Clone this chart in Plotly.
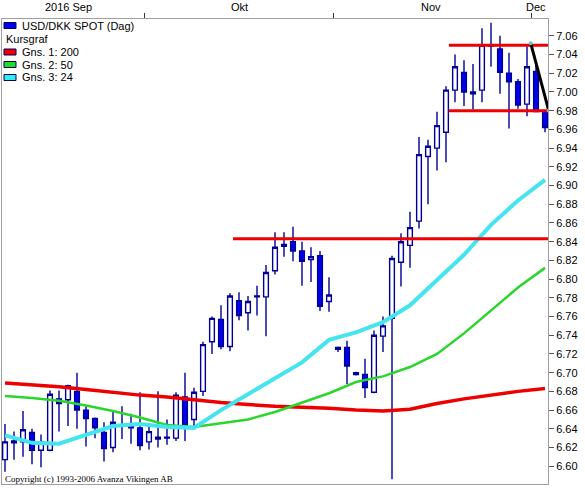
import pandas as pd
import plotly.graph_objects as go

# trading days shown (Sep 9 - Dec 2, 2016)
dates = pd.bdate_range("2016-09-09", "2016-12-02")

open_ = [6.607, 6.625, 6.626, 6.636, 6.617, 6.617, 6.672, 6.671, 6.680, 6.660,
         6.651, 6.636, 6.620, 6.643, 6.643, 6.641, 6.626, 6.629, 6.631, 6.630,
         6.674, 6.650, 6.680, 6.733, 6.757, 6.728, 6.777, 6.764, 6.781, 6.781,
         6.809, 6.837, 6.840, 6.830, 6.821, 6.825, 6.776, 6.727, 6.727, 6.700,
         6.698, 6.679, 6.739, 6.758, 6.818, 6.836, 6.862, 6.931, 6.940, 6.957,
         7.002, 7.021, 6.998, 7.002, 7.050, 7.046, 7.020, 7.011, 6.987, 7.022,
         6.979]
high = [6.645, 6.637, 6.659, 6.640, 6.634, 6.681, 6.681, 6.687, 6.700, 6.664,
        6.652, 6.647, 6.658, 6.664, 6.656, 6.679, 6.643, 6.680, 6.650, 6.679,
        6.700, 6.684, 6.733, 6.760, 6.772, 6.785, 6.786, 6.782, 6.793, 6.815,
        6.850, 6.850, 6.856, 6.840, 6.834, 6.830, 6.802, 6.728, 6.734, 6.701,
        6.715, 6.745, 6.760, 6.825, 6.849, 6.872, 6.952, 6.949, 6.979, 7.006,
        7.040, 7.034, 7.030, 7.068, 7.074, 7.060, 7.042, 7.014, 7.049, 7.030,
        6.980]
low = [6.594, 6.607, 6.610, 6.602, 6.599, 6.616, 6.637, 6.643, 6.640, 6.621,
       6.630, 6.605, 6.615, 6.629, 6.624, 6.617, 6.618, 6.620, 6.623, 6.627,
       6.627, 6.640, 6.675, 6.720, 6.725, 6.723, 6.756, 6.745, 6.761, 6.739,
       6.805, 6.824, 6.819, 6.793, 6.797, 6.766, 6.765, 6.722, 6.688, 6.697,
       6.673, 6.678, 6.722, 6.586, 6.792, 6.812, 6.854, 6.880, 6.916, 6.925,
       6.989, 6.985, 6.981, 6.989, 7.027, 6.998, 6.961, 6.982, 6.974, 6.979,
       6.957]
close = [6.626, 6.627, 6.639, 6.617, 6.626, 6.677, 6.667, 6.686, 6.660, 6.651,
         6.641, 6.619, 6.647, 6.644, 6.641, 6.622, 6.637, 6.631, 6.630, 6.676,
         6.643, 6.679, 6.730, 6.758, 6.728, 6.782, 6.761, 6.776, 6.782, 6.807,
         6.834, 6.835, 6.830, 6.819, 6.824, 6.771, 6.783, 6.725, 6.707, 6.698,
         6.684, 6.740, 6.750, 6.822, 6.840, 6.855, 6.933, 6.942, 6.964, 7.002,
         7.027, 7.000, 7.000, 7.050, 7.049, 7.021, 7.011, 6.986, 7.027, 6.979,
         6.962]

# moving averages read every third trading day
ma_dates = dates[::3]
ma200 = [6.689, 6.687, 6.685, 6.682, 6.679, 6.676, 6.674, 6.671, 6.668, 6.666,
         6.664, 6.663, 6.662, 6.660, 6.659, 6.661, 6.667, 6.672, 6.676, 6.680, 6.683]
ma50 = [6.675, 6.673, 6.670, 6.665, 6.659, 6.652, 6.644, 6.642, 6.646, 6.650,
        6.658, 6.668, 6.678, 6.690, 6.696, 6.706, 6.720, 6.742, 6.766, 6.791, 6.812]
ma24 = [6.633, 6.625, 6.624, 6.634, 6.643, 6.645, 6.642, 6.641, 6.660, 6.677,
        6.694, 6.711, 6.735, 6.743, 6.754, 6.772, 6.799, 6.826, 6.858, 6.884, 6.906]

# horizontal support / resistance lines
sr_levels = [6.843, 7.050, 6.980]
sr_start = ["2016-10-14 08:00", "2016-11-17 08:00", "2016-11-17 08:00"]
sr_end = "2016-12-02 08:00"

# trend line
trend_x = ["2016-11-30 10:00", "2016-12-02 10:00"]
trend_y = [7.052, 6.980]

y_ticks = [round(6.60 + 0.02 * k, 2) for k in range(24)]
month_labels = ["2016 Sep", "Okt", "Nov", "Dec"]
month_label_x = ["2016-09-20", "2016-10-17", "2016-11-15 08:00", "2016-12-01"]
month_bounds = ["2016-09-30 12:00", "2016-10-31 12:00", "2016-11-30 12:00"]

NAVY = "#000099"
BLUE = "#0000EE"
RED = "#EE0000"
GREEN = "#2BD62B"
CYAN = "#44E4F0"
FRAME = "#A0A0A0"
FONT = "Liberation Sans, Arial, sans-serif"

fig = go.Figure()

fig.add_trace(go.Candlestick(
    x=dates, open=open_, high=high, low=low, close=close,
    increasing=dict(line=dict(color=NAVY, width=1.4), fillcolor="white"),
    decreasing=dict(line=dict(color=NAVY, width=1.4), fillcolor=BLUE),
    whiskerwidth=0, showlegend=False))

fig.add_trace(go.Scatter(x=ma_dates, y=ma200, mode="lines",
                         line=dict(color=RED, width=3.5), showlegend=False))
fig.add_trace(go.Scatter(x=ma_dates, y=ma50, mode="lines",
                         line=dict(color=GREEN, width=2.5), showlegend=False))
fig.add_trace(go.Scatter(x=ma_dates, y=ma24, mode="lines",
                         line=dict(color=CYAN, width=4), showlegend=False))

for lvl, start in zip(sr_levels, sr_start):
    fig.add_trace(go.Scatter(x=[start, sr_end], y=[lvl, lvl], mode="lines",
                             line=dict(color=RED, width=3), showlegend=False))

fig.add_trace(go.Scatter(x=trend_x, y=trend_y, mode="lines+markers",
                         line=dict(color="black", width=3),
                         marker=dict(size=4, color="#7fb8c8"), showlegend=False))

# plot area in pixels (for legend placement)
W, H = 585, 488
ML, MR, MT, MB = 2, 37, 19, 4
pw, ph = W - ML - MR, H - MT - MB


def px(x):
    return (x - ML) / pw


def py(y):
    return 1 - (y - MT) / ph


legend_rows = [("USD/DKK SPOT (Dag)", BLUE, 25.5),
               ("Kursgraf", None, 38.5),
               ("Gns. 1: 200", RED, 52),
               ("Gns. 2: 50", "#22DD22", 64.5),
               ("Gns. 3: 24", "#33EEEE", 77.5)]
for text, col, yc in legend_rows:
    if col:
        fig.add_shape(type="rect", xref="paper", yref="paper",
                      x0=px(4), x1=px(16), y0=py(yc - 3), y1=py(yc + 3),
                      fillcolor=col, line=dict(color="#000066", width=1))
        tx = 20
    else:
        tx = 4
    fig.add_annotation(x=px(tx), y=py(yc), xref="paper", yref="paper",
                       text=text, showarrow=False, xanchor="left", yanchor="middle",
                       font=dict(family=FONT, size=11, color="black"))

for lab, lx in zip(month_labels, month_label_x):
    fig.add_annotation(x=lx, y=1, xref="x", yref="paper", text=lab,
                       showarrow=False, xanchor="center", yanchor="bottom", yshift=4,
                       font=dict(family=FONT, size=11, color="black"))

fig.add_annotation(x=px(3), y=py(479), xref="paper", yref="paper",
                   text="Copyright (c) 1993-2006 Avanza Vikingen AB", showarrow=False,
                   xanchor="left", yanchor="middle",
                   font=dict(family="Liberation Serif, Times New Roman, serif", size=9, color="black"))

fig.update_layout(
    width=W, height=H,
    margin=dict(l=ML, r=MR, t=MT, b=MB),
    paper_bgcolor="white", plot_bgcolor="white",
    boxgap=0.25,
    showlegend=False,
    xaxis=dict(type="date", side="top",
               range=["2016-09-08 16:00", "2016-12-02 08:00"],
               rangebreaks=[dict(bounds=["sat", "mon"])],
               rangeslider=dict(visible=False),
               tickvals=month_bounds, ticktext=["", "", ""],
               ticks="outside", ticklen=5, tickcolor="#333333",
               showline=True, linecolor=FRAME, linewidth=1, mirror=True,
               showgrid=False, zeroline=False),
    yaxis=dict(side="right", range=[6.581, 7.078],
               tickvals=y_ticks, ticktext=[f"{v:.2f}" for v in y_ticks],
               ticks="outside", ticklen=5, tickcolor="#555555",
               tickfont=dict(family=FONT, size=11, color="black"),
               showline=True, linecolor=FRAME, linewidth=1, mirror=True,
               showgrid=False, zeroline=False),
)

# the page body has a default 8px margin; remove it so the chart sits at 0,0
fig.write_html("out.html", config={"displayModeBar": False},
               post_script="document.body.style.margin='0';")
